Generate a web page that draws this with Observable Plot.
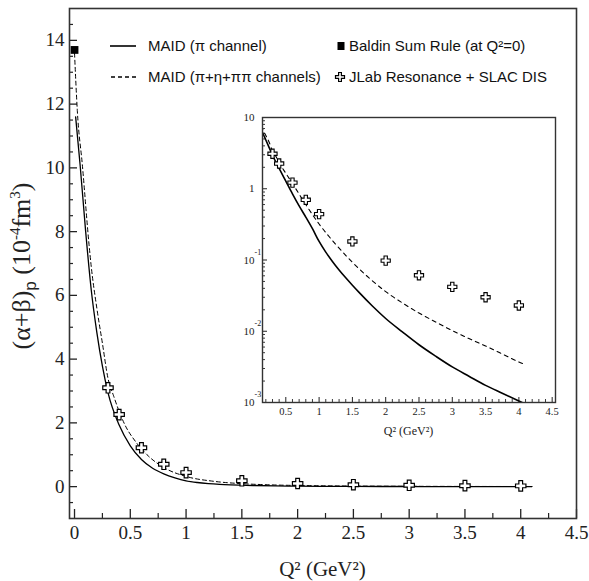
<!DOCTYPE html>
<html><head><meta charset="utf-8">
<script src="https://cdn.jsdelivr.net/npm/d3@7"></script>
<script src="https://cdn.jsdelivr.net/npm/@observablehq/plot@0.6"></script>
<style>
body{margin:0;background:#fff;}
#wrap{position:relative;width:589px;height:581px;overflow:hidden;background:#fff;}
#wrap > svg{position:absolute;}
.leg{position:absolute;font-family:"Liberation Sans",Arial,sans-serif;font-size:15px;color:#111;white-space:nowrap;line-height:16px;height:16px;}
.sw{position:absolute;}
</style></head><body><div id="wrap"></div>
<script>
// ---- data ----
const maidPiQ2 = [0.01,0.05,0.1,0.15,0.2,0.25,0.3,0.4,0.5,0.6,0.7,0.8,0.9,1.0,1.1,1.2,1.3,1.4,1.5,1.6,1.8,2.0,2.25,2.5,2.75,3.0,3.25,3.5,3.75,4.0,4.1];
const maidPiVal = [11.6,10.1,8.0,6.17,4.84,3.78,2.95,1.93,1.28,0.85,0.575,0.40,0.275,0.182,0.129,0.0955,0.0724,0.0562,0.0442,0.0351,0.0226,0.0151,0.0098,0.00646,0.00447,0.00316,0.00234,0.00174,0.00135,0.00105,0.00095];
const maidAllQ2 = [0,0.025,0.07,0.13,0.15,0.2,0.25,0.3,0.35,0.45,0.55,0.65,0.8,1.0,1.25,1.5,1.75,2.0,2.25,2.5,2.75,3.0,3.25,3.5,3.75,4.0,4.1];
const maidAllVal = [13.6,11.8,10.1,7.6,6.9,5.6,4.5,3.4,2.85,1.95,1.4,1.0,0.60,0.32,0.166,0.093,0.056,0.036,0.025,0.018,0.0135,0.0102,0.0079,0.0062,0.0048,0.0037,0.0034];
const jlabQ2 = [0.3,0.4,0.6,0.8,1.0,1.5,2.0,2.5,3.0,3.5,4.0];
const jlabVal = [3.1,2.26,1.22,0.70,0.44,0.182,0.098,0.061,0.042,0.030,0.023];
const baldinQ2 = [0];
const baldinVal = [13.7];

const xMajor = [0,0.5,1,1.5,2,2.5,3,3.5,4,4.5];
const xMinor = [0.25,0.75,1.25,1.75,2.25,2.75,3.25,3.75,4.25];
const yMajor = [0,2,4,6,8,10,12,14];
const yMinor = [-0.5,0.5,1,1.5,2.5,3,3.5,4.5,5,5.5,6.5,7,7.5,8.5,9,9.5,10.5,11,11.5,12.5,13,13.5,14.5];
const xMajorIn = [0.5,1,1.5,2,2.5,3,3.5,4,4.5];
const xMinorIn = [0.2,0.3,0.4,0.6,0.7,0.8,0.9,1.1,1.2,1.3,1.4,1.6,1.7,1.8,1.9,2.1,2.2,2.3,2.4,2.6,2.7,2.8,2.9,3.1,3.2,3.3,3.4,3.6,3.7,3.8,3.9,4.1,4.2,4.3,4.4];
const yMajorIn = [0.001,0.01,0.1,1,10];
const yMajorInBase = ["10","10","10","1","10"];
const yMajorInExp = ["-3","-2","-1","",""];
const yMinorIn = [0.002,0.003,0.004,0.005,0.006,0.007,0.008,0.009,0.02,0.03,0.04,0.05,0.06,0.07,0.08,0.09,0.2,0.3,0.4,0.5,0.6,0.7,0.8,0.9,2,3,4,5,6,7,8,9];

const legendLabels = ["MAID (\u03c0 channel)","MAID (\u03c0+\u03b7+\u03c0\u03c0 channels)","Baldin Sum Rule (at Q\u00b2=0)","JLab Resonance + SLAC DIS"];

// ---- tables ----
const maidPi = maidPiQ2.map((q,i)=>({q, v: maidPiVal[i]}));
const maidAll = maidAllQ2.map((q,i)=>({q, v: maidAllVal[i]}));
const jlab = jlabQ2.map((q,i)=>({q, v: jlabVal[i]}));
const baldin = baldinQ2.map((q,i)=>({q, v: baldinVal[i]}));

const fatCross = {draw(ctx, size){
  const h = Math.sqrt(size/Math.PI), a = h*0.36;
  ctx.moveTo(-a,-h); ctx.lineTo(a,-h); ctx.lineTo(a,-a); ctx.lineTo(h,-a); ctx.lineTo(h,a);
  ctx.lineTo(a,a); ctx.lineTo(a,h); ctx.lineTo(-a,h); ctx.lineTo(-a,a); ctx.lineTo(-h,a);
  ctx.lineTo(-h,-a); ctx.lineTo(-a,-a); ctx.closePath();
}};

const wrap = document.getElementById("wrap");
const W = 589, H = 581, mL = 69, mR = 13, mT = 8, mB = 63;
const fw = W - mL - mR, fh = H - mT - mB;
const ink = "#222";
const fmt = d => String(d);

const main = Plot.plot({
  width: W, height: H, marginLeft: mL, marginRight: mR, marginTop: mT, marginBottom: mB,
  style: {fontFamily: "'Liberation Serif', serif", background: "transparent", color: ink},
  x: {domain: [-0.045, 4.5]},
  y: {domain: [-1, 15]},
  marks: [
    Plot.tickX(xMajor, {x: d=>d, insetTop: fh-9, stroke: ink, strokeWidth: 1.3}),
    Plot.tickX(xMinor, {x: d=>d, insetTop: fh-5, stroke: ink, strokeWidth: 1.2}),
    Plot.tickY(yMajor, {y: d=>d, insetRight: fw-8, stroke: ink, strokeWidth: 1.3}),
    Plot.tickY(yMinor, {y: d=>d, insetRight: fw-4, stroke: ink, strokeWidth: 1.2}),
    Plot.axisX(xMajor, {tickSize: 0, tickPadding: 7, fontSize: 19, tickFormat: fmt, label: null}),
    Plot.axisY(yMajor, {tickSize: 0, tickPadding: 5, fontSize: 19, tickFormat: fmt, label: null}),
    Plot.line(maidAll, {x: "q", y: "v", stroke: "#000", strokeWidth: 1, strokeDasharray: "4,3", curve: "monotone-x"}),
    Plot.line(maidPi, {x: "q", y: "v", stroke: "#000", strokeWidth: 1.3, curve: "monotone-x"}),
    Plot.dot(jlab, {x: "q", y: "v", symbol: fatCross, r: 5.2, fill: "white", stroke: "#000", strokeWidth: 1.2}),
    Plot.dot(baldin, {x: "q", y: "v", symbol: "square", r: 4.4, fill: "#000"}),
    Plot.frame({stroke: "#333", strokeWidth: 1.6})
  ]
});
main.style.left = "0px"; main.style.top = "0px";
wrap.appendChild(main);

const ms = d3.select(main);
// x title
ms.append("text").attr("x", mL + fw/2).attr("y", 576).attr("text-anchor","middle")
  .attr("font-family","'Liberation Serif', serif").attr("font-size", 21).attr("fill", ink)
  .text("Q\u00b2 (GeV\u00b2)");
// y title
const yt = ms.append("text").attr("transform", `translate(30,${mT + fh/2 + 3}) rotate(-90)`)
  .attr("text-anchor","middle").attr("font-family","'Liberation Serif', serif").attr("font-size", 26).attr("fill", ink);
yt.append("tspan").text("(\u03b1+\u03b2)");
yt.append("tspan").attr("dy", 6).attr("font-size", 17).attr("font-family","'Liberation Sans', sans-serif").text("p");
yt.append("tspan").attr("dy", -6).text(" (10");
yt.append("tspan").attr("dy", -10).attr("font-size", 15).text("-4");
yt.append("tspan").attr("dy", 10).text("fm");
yt.append("tspan").attr("dy", -10).attr("font-size", 15).text("3");
yt.append("tspan").attr("dy", 10).text(")");

// ---- inset ----
const iL = 224, iT = 104, imL = 38, imR = 4, imT = 13, imB = 44;
const iW = 335, iH = 342;
const ifw = iW - imL - imR, ifh = iH - imT - imB;
const decades = yMajorIn.map((v,i)=>({v, base: yMajorInBase[i], exp: yMajorInExp[i]}));
const inset = Plot.plot({
  width: iW, height: iH, marginLeft: imL, marginRight: imR, marginTop: imT, marginBottom: imB,
  style: {fontFamily: "'Liberation Serif', serif", background: "transparent", color: ink},
  x: {domain: [0.15, 4.55], axis: null},
  y: {type: "log", domain: [0.001, 10], axis: null},
  marks: [
    Plot.tickX(xMajorIn, {x: d=>d, insetTop: ifh-5, stroke: ink, strokeWidth: 1}),
    Plot.tickX(xMinorIn, {x: d=>d, insetTop: ifh-3, stroke: ink, strokeWidth: 0.9}),
    Plot.tickY(yMajorIn, {y: d=>d, insetRight: ifw-5, stroke: ink, strokeWidth: 1}),
    Plot.tickY(yMinorIn, {y: d=>d, insetRight: ifw-3, stroke: ink, strokeWidth: 0.9}),
    Plot.axisX(xMajorIn, {tickSize: 0, tickPadding: 5, fontSize: 10.5, tickFormat: fmt, label: null}),
    Plot.text(decades, {y: "v", text: "base", frameAnchor: "left", dx: -8, dy: 0, textAnchor: "end", fontSize: 11, fill: ink}),
    Plot.text(decades, {y: "v", text: "exp", frameAnchor: "left", dx: -8, dy: -8, textAnchor: "start", fontSize: 8, fill: ink}),
    Plot.line(maidAll.filter(d=>d.q>=0.13), {x: "q", y: "v", stroke: "#000", strokeWidth: 1.1, strokeDasharray: "4,4", curve: "monotone-x", clip: true}),
    Plot.line(maidPi.filter(d=>d.q>=0.1), {x: "q", y: "v", stroke: "#000", strokeWidth: 1.6, curve: "monotone-x", clip: true}),
    Plot.dot(jlab, {x: "q", y: "v", symbol: fatCross, r: 4.6, fill: "white", stroke: "#000", strokeWidth: 1.1}),
    Plot.frame({stroke: "#333", strokeWidth: 1.4})
  ]
});
inset.style.left = iL + "px"; inset.style.top = iT + "px";
wrap.appendChild(inset);
d3.select(inset).append("text").attr("x", imL + ifw/2).attr("y", 435 - iT).attr("text-anchor","middle")
  .attr("font-family","'Liberation Serif', serif").attr("font-size", 12).attr("fill", ink)
  .text("Q\u00b2 (GeV\u00b2)");

// ---- legend ----
function addSwatch(x, y, w, h, inner){
  const s = d3.select(wrap).append("svg").attr("class","sw").attr("width", w).attr("height", h)
    .style("left", x+"px").style("top", y+"px");
  s.html(inner);
}
function addText(x, yc, txt){
  const d = document.createElement("div"); d.className = "leg";
  d.style.left = x + "px"; d.style.top = (yc - 8) + "px"; d.textContent = txt; wrap.appendChild(d);
}
addSwatch(109, 40, 28, 12, '<line x1="1" x2="27" y1="6" y2="6" stroke="#000" stroke-width="1.6"/>');
addText(148, 45.5, legendLabels[0]);
addSwatch(109, 71, 28, 12, '<line x1="2" x2="27" y1="6" y2="6" stroke="#000" stroke-width="1.3" stroke-dasharray="4,3"/>');
addText(148, 76.5, legendLabels[1]);
addSwatch(334, 39, 14, 14, '<rect x="3.5" y="3" width="7" height="8" fill="#000"/>');
addText(349, 45.5, legendLabels[2]);
addSwatch(333, 70, 14, 14, '<path d="M5.6,2.5H8.4V5.6H11.5V8.4H8.4V11.5H5.6V8.4H2.5V5.6H5.6Z" fill="#fff" stroke="#000" stroke-width="1.2"/>');
addText(349, 76.5, legendLabels[3]);
</script>
</body></html>
